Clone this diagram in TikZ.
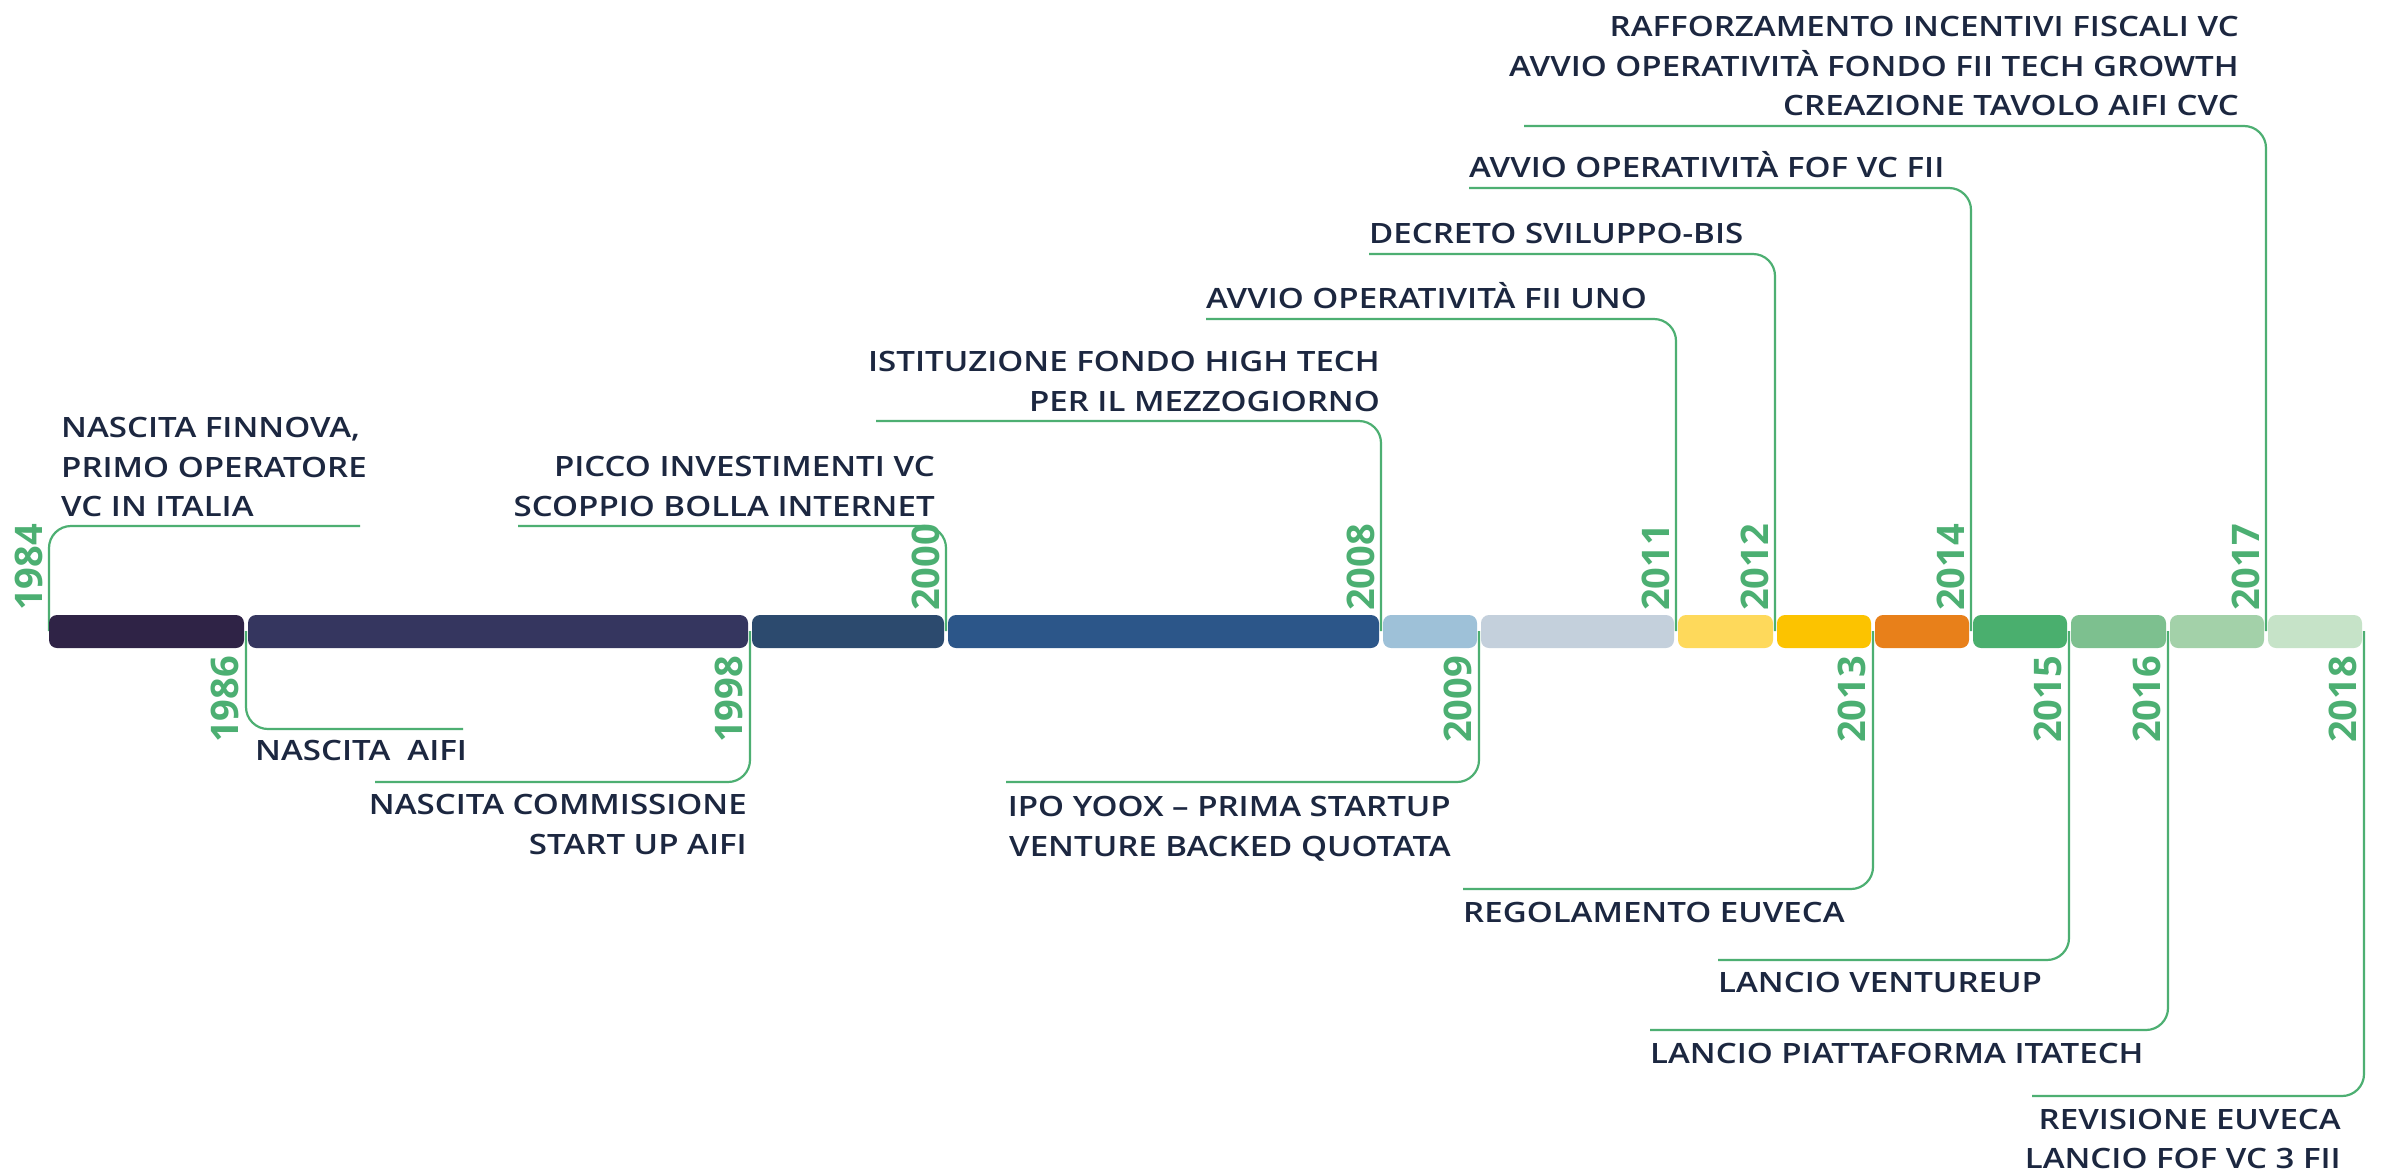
\documentclass[tikz,border=0pt]{standalone}
\usepackage{fontspec}
\setmainfont{Open Sans}
\IfFontExistsTF{Open Sans SemiBold}
  {\newfontfamily\evfont{Open Sans SemiBold}[FakeStretch=1.18]}
  {\IfFontExistsTF{Open Sans Semibold}
    {\newfontfamily\evfont{Open Sans Semibold}[FakeStretch=1.18]}
    {\newfontfamily\evfont{Open Sans}[FakeBold=2,FakeStretch=1.18]}}
\definecolor{lineg}{HTML}{4DAF72}
\definecolor{yrg}{HTML}{4CAF72}
\definecolor{navy}{HTML}{1C2740}
\definecolor{s1}{HTML}{2F2346}
\definecolor{s2}{HTML}{35365F}
\definecolor{s3}{HTML}{2C4A6E}
\definecolor{s4}{HTML}{2C5689}
\definecolor{s5}{HTML}{9EC1D8}
\definecolor{s6}{HTML}{C4D0DC}
\definecolor{s7}{HTML}{FED95B}
\definecolor{s8}{HTML}{FCC300}
\definecolor{s9}{HTML}{E8801A}
\definecolor{s10}{HTML}{4AAF6E}
\definecolor{s11}{HTML}{7DC08F}
\definecolor{s12}{HTML}{A3D1A9}
\definecolor{s13}{HTML}{C6E3C8}
\begin{document}
\begin{tikzpicture}[x=1bp,y=-1bp,
  conn/.style={draw=lineg, line width=2.2bp, rounded corners=22bp},
  ev/.style={inner sep=0pt, text=navy, font=\evfont\fontsize{28bp}{39.5bp}\selectfont},
  evl/.style={ev, align=left},
  evr/.style={ev, align=right},
  yrup/.style={inner sep=0pt, rotate=90, anchor=base west, text=yrg, font=\bfseries\fontsize{38bp}{38bp}\selectfont},
  yrdn/.style={yrup, anchor=base east},
  barseg/.style={rounded corners=8bp}]
\fill[white] (0,0) rectangle (2382,1172);
\useasboundingbox (0,0) rectangle (2382,1172);

% bar anchor points
\coordinate (b1984) at (49,631);
\coordinate (b1986) at (246,631);
\coordinate (b1998) at (750,631);
\coordinate (b2000) at (946,631);
\coordinate (b2008) at (1381,631);
\coordinate (b2009) at (1479,631);
\coordinate (b2011) at (1676,631);
\coordinate (b2012) at (1775,631);
\coordinate (b2013) at (1873,631);
\coordinate (b2014) at (1971,631);
\coordinate (b2015) at (2069,631);
\coordinate (b2016) at (2168,631);
\coordinate (b2017) at (2266,631);
\coordinate (b2018) at (2364,631);

% connector free ends
\coordinate (h1984) at (360,526);
\coordinate (h2000) at (518,526);
\coordinate (h2008) at (876,421);
\coordinate (h2011) at (1206,319);
\coordinate (h2012) at (1369,254);
\coordinate (h2014) at (1469,188);
\coordinate (h2017) at (1524,126);
\coordinate (h1986) at (463,729);
\coordinate (h1998) at (375,782);
\coordinate (h2009) at (1006,782);
\coordinate (h2013) at (1463,889);
\coordinate (h2015) at (1718,960);
\coordinate (h2016) at (1650,1030);
\coordinate (h2018) at (2032,1096);

\foreach \y in {1984,2000,2008,2011,2012,2014,2017,1986,1998,2009,2013,2015,2016,2018}
  \draw[conn] (b\y) |- (h\y);

% bar segments
\fill[s1, barseg] (49,615) rectangle (244,648);
\fill[s2, barseg] (248,615) rectangle (748,648);
\fill[s3, barseg] (752,615) rectangle (944,648);
\fill[s4, barseg] (948,615) rectangle (1379,648);
\fill[s5, barseg] (1383,615) rectangle (1477,648);
\fill[s6, barseg] (1481,615) rectangle (1674,648);
\fill[s7, barseg] (1678,615) rectangle (1773,648);
\fill[s8, barseg] (1777,615) rectangle (1871,648);
\fill[s9, barseg] (1875,615) rectangle (1969,648);
\fill[s10, barseg] (1973,615) rectangle (2067,648);
\fill[s11, barseg] (2071,615) rectangle (2166,648);
\fill[s12, barseg] (2170,615) rectangle (2264,648);
\fill[s13, barseg] (2268,615) rectangle (2362,648);

% year labels
\node[yrup] (y1984) at (42,611) {1984};
\node[yrup] (y2000) at (939,611) {2000};
\node[yrup] (y2008) at (1374,611) {2008};
\node[yrup] (y2011) at (1669,611) {2011};
\node[yrup] (y2012) at (1768,611) {2012};
\node[yrup] (y2014) at (1964,611) {2014};
\node[yrup] (y2017) at (2259,611) {2017};
\node[yrdn] (y1986) at (238,656) {1986};
\node[yrdn] (y1998) at (742,656) {1998};
\node[yrdn] (y2009) at (1471,656) {2009};
\node[yrdn] (y2013) at (1865,656) {2013};
\node[yrdn] (y2015) at (2061,656) {2015};
\node[yrdn] (y2016) at (2160,656) {2016};
\node[yrdn] (y2018) at (2356,656) {2018};

% event texts above
\node[evl, anchor=north west] (t1984) at (61,417) {NASCITA FINNOVA,\\PRIMO OPERATORE\\VC IN ITALIA};
\node[evr, anchor=north east] (t2000) at (935,456) {PICCO INVESTIMENTI VC\\SCOPPIO BOLLA INTERNET};
\node[evr, anchor=north east] (t2008) at (1380,351) {ISTITUZIONE FONDO HIGH TECH\\PER IL MEZZOGIORNO};
\node[ev, anchor=base west] (t2011) at (1206,308) {AVVIO OPERATIVITÀ FII UNO};
\node[ev, anchor=base west] (t2012) at (1369,243) {DECRETO SVILUPPO-BIS};
\node[ev, anchor=base west] (t2014) at (1469,177) {AVVIO OPERATIVITÀ FOF VC FII};
\node[evr, anchor=north east] (t2017) at (2239,16) {RAFFORZAMENTO INCENTIVI FISCALI VC\\AVVIO OPERATIVITÀ FONDO FII TECH GROWTH\\CREAZIONE TAVOLO AIFI CVC};

% event texts below
\node[ev, anchor=base west] (t1986) at (255,760) {NASCITA\ \ AIFI};
\node[evr, anchor=north east] (t1998) at (747,794) {NASCITA COMMISSIONE\\START UP AIFI};
\node[evr, anchor=north east] (t2009) at (1451,796) {IPO YOOX – PRIMA STARTUP\\VENTURE BACKED QUOTATA};
\node[ev, anchor=base west] (t2013) at (1463,922) {REGOLAMENTO EUVECA};
\node[ev, anchor=base west] (t2015) at (1718,992) {LANCIO VENTUREUP};
\node[ev, anchor=base west] (t2016) at (1650,1063) {LANCIO PIATTAFORMA ITATECH};
\node[evr, anchor=north east] (t2018) at (2341,1108.5) {REVISIONE EUVECA\\LANCIO FOF VC 3 FII};
\end{tikzpicture}
\end{document}
